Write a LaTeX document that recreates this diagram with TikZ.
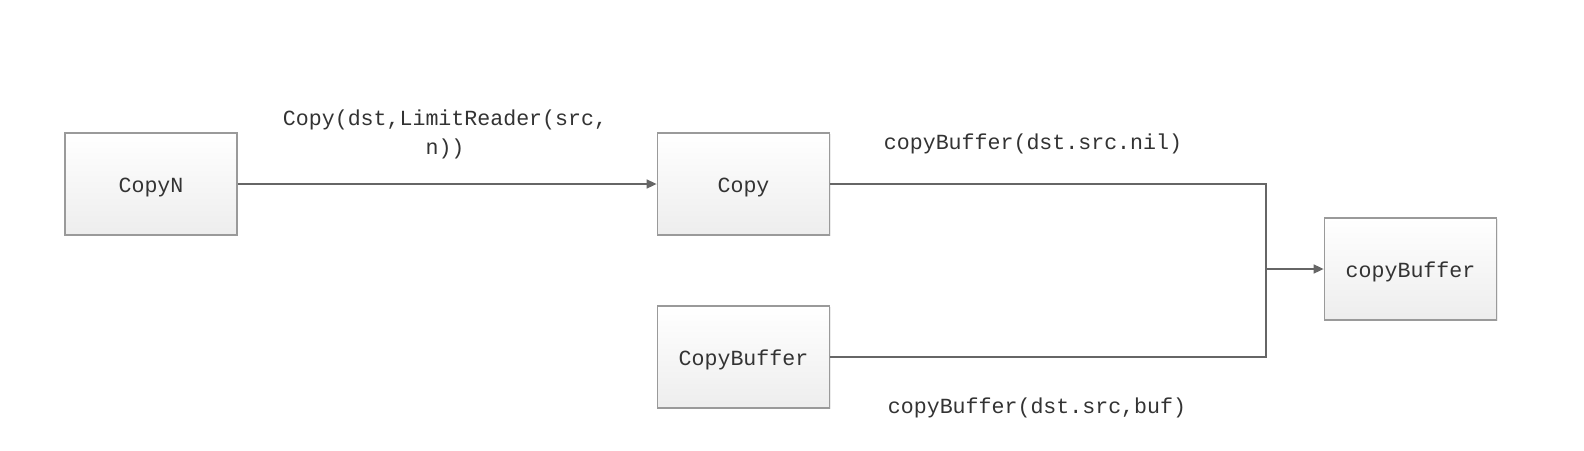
\documentclass[tikz,border=0pt]{standalone}
\usepackage{fontspec}
\setmonofont{Liberation Mono}
\usetikzlibrary{arrows.meta,shadows}
\definecolor{boxline}{HTML}{9A9A9A}
\definecolor{conn}{HTML}{666666}
\definecolor{txt}{HTML}{333333}
\tikzset{
  box/.style={draw=boxline, line width=0.9pt, top color=white, bottom color=gray!14,
    minimum width=86pt, minimum height=51pt, inner sep=0pt,
    text height=8pt, text depth=0pt,
    font=\ttfamily\fontsize{10.8}{14.5}\selectfont, text=txt,
    drop shadow={shadow xshift=0.6pt, shadow yshift=-0.6pt, opacity=0.15}},
  conn/.style={draw=conn, line width=0.8pt},
  lbl/.style={font=\ttfamily\fontsize{10.8}{14.5}\selectfont, text=txt, align=center, inner sep=0pt},
  tip/.style={-{Triangle[length=5pt,width=4.5pt]}}
}
\begin{document}
\begin{tikzpicture}[x=0.5pt,y=-0.5pt]
\path[use as bounding box, fill=white] (0,0) rectangle (1584,450);
\node[box] (copyn) at (151,184) {CopyN};
\node[box] (copy) at (743.5,184) {Copy};
\node[box] (cbuf) at (743.5,357) {CopyBuffer};
\node[box] (cb) at (1410.5,269) {copyBuffer};
\coordinate (jt) at (1266,184);
\coordinate (jb) at (1266,357);
\coordinate (jm) at (1266,269);
\draw[conn,tip] (copyn.east) -- (copy.west);
\draw[conn] (copy.east) -- (jt) -- (jb) -- (cbuf.east);
\draw[conn,tip] (jm) -- (cb.west);
\node[lbl] (l1) at (445,134) {Copy(dst,LimitReader(src,\\n))};
\node[lbl] (l2) at (1033,144) {copyBuffer(dst.src.nil)};
\node[lbl] (l3) at (1037,408) {copyBuffer(dst.src,buf)};
\end{tikzpicture}
\end{document}
